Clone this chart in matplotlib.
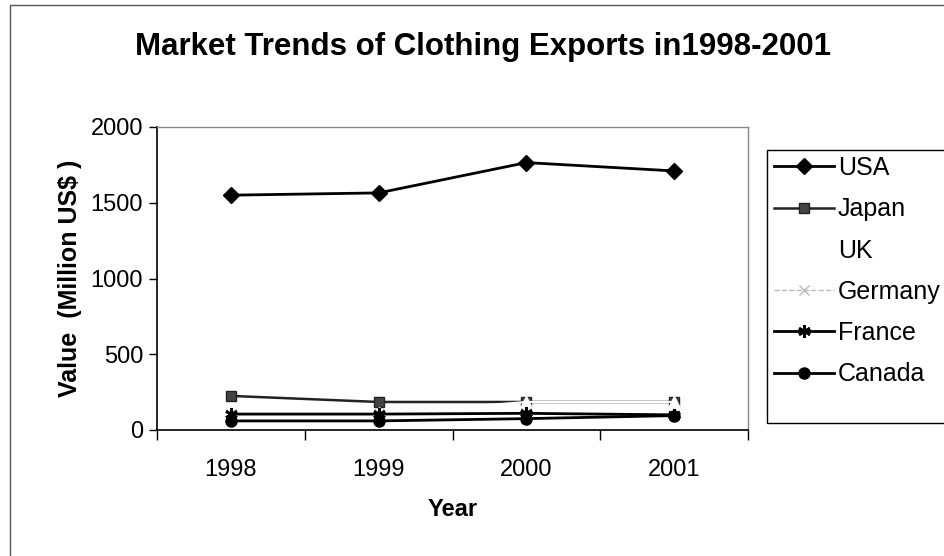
import matplotlib
matplotlib.use("Agg")
import matplotlib.pyplot as plt
from matplotlib.patches import Rectangle

years = ["1998", "1999", "2000", "2001"]
usa = [1550, 1565, 1765, 1710]
japan = [225, 185, 185, 185]
uk = [110, 110, 185, 185]
germany = [105, 105, 110, 100]
france = [105, 105, 110, 100]
canada = [60, 60, 75, 95]

plt.rcParams['font.family'] = ['Liberation Sans', 'DejaVu Sans']

fig = plt.figure(figsize=(9.44, 5.56), dpi=100, facecolor='w')
ax = fig.add_axes([157/944, 1-430/556, 591/944, 303/556])

x = range(len(years))
ax.plot(x, usa, color='k', lw=2, marker='D', ms=8, label='USA')
ax.plot(x, japan, color='#222222', lw=1.8, marker='s', ms=7, mfc='#444444', mec='#222222', label='Japan')
ax.plot(x, uk, color='w', lw=1.5, marker='^', ms=8, mfc='w', mec='w', label='UK')
ax.plot(x, germany, color='#bbbbbb', lw=1, ls='--', marker='x', ms=7, label='Germany')
ax.plot(x, france, color='k', lw=2, marker=(6, 2, 0), ms=9, mew=2, label='France')
ax.plot(x, canada, color='k', lw=2, marker='o', ms=8, label='Canada')

ax.set_xlim(-0.5, 3.5)
ax.set_ylim(0, 2000)
ax.set_yticks([0, 500, 1000, 1500, 2000])
ax.set_xticks(list(x))
ax.set_xticklabels(years)
ax.set_xticks([-0.5, 0.5, 1.5, 2.5, 3.5], minor=True)
ax.tick_params(axis='x', which='major', length=0, pad=21, labelsize=17)
ax.tick_params(axis='x', which='minor', length=7, direction='out', width=1)
ax.tick_params(axis='y', length=6, direction='out', width=1, labelsize=17, pad=4)
for s in ['left', 'bottom']:
    ax.spines[s].set_color('k')
    ax.spines[s].set_linewidth(1.2)
for s in ['top', 'right']:
    ax.spines[s].set_color('#888888')
    ax.spines[s].set_linewidth(1)

ax.set_xlabel("Year", fontsize=17, fontweight='bold', labelpad=12)
ax.set_ylabel("Value  (Million US$ )", fontsize=18, fontweight='bold', labelpad=6)
fig.text(483/944, 1-47/556, "Market Trends of Clothing Exports in1998-2001",
         ha='center', va='center', fontsize=22.5, fontweight='bold')

leg = ax.legend(loc='upper left', bbox_to_anchor=(769/944, 1-151/556),
                bbox_transform=fig.transFigure, frameon=False,
                fontsize=18, handlelength=2.4, handletextpad=0.15,
                labelspacing=0.69, borderpad=0.2, borderaxespad=0)

# legend box (extends past the right edge as in the scan)
fig.patches.append(Rectangle((767/944, 1-423/556), 0.3, 273/556, transform=fig.transFigure,
                             fill=False, edgecolor='k', lw=1))
# outer chart border
fig.patches.append(Rectangle((10/944, -0.1), 1.2, 1-5/556+0.1, transform=fig.transFigure,
                             fill=False, edgecolor='#555555', lw=1))

fig.savefig("out.png", dpi=100)
